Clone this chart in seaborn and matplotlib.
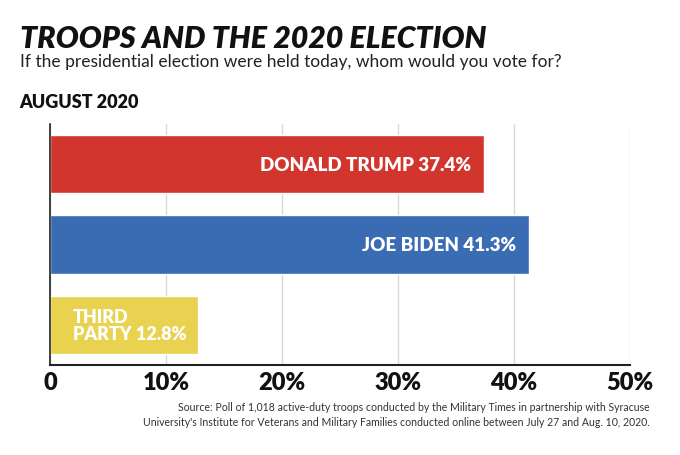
import matplotlib
matplotlib.use("Agg")
import matplotlib.pyplot as plt
import seaborn as sns
import pandas as pd

categories = ["DONALD TRUMP", "JOE BIDEN", "THIRD\nPARTY"]
values = [37.4, 41.3, 12.8]
colors = ["#D1352D", "#3A6CB4", "#E8D24F"]
tick_vals = [0, 10, 20, 30, 40, 50]
tick_labels = ["0", "10%", "20%", "30%", "40%", "50%"]

sns.set_theme(style="white")
plt.rcParams['font.family'] = ['Lato', 'DejaVu Sans']

df = pd.DataFrame({"cat": categories, "val": values})

fig = plt.figure(figsize=(6.8, 4.56), dpi=100)
ax = fig.add_axes([0.0735, 0.197, 0.853, 0.529])
sns.barplot(data=df, x="val", y="cat", hue="cat", palette=colors, legend=False,
            width=0.725, ax=ax, saturation=1)

ax.set_xlim(0, 50)
ax.set_ylim(2.5, -0.5)
ax.set_xticks(tick_vals)
ax.set_xticklabels(tick_labels, fontsize=17, fontweight='heavy')
ax.set_yticks([])
ax.set_xlabel("")
ax.set_ylabel("")
ax.grid(axis='x', color='#d8d8d8', linewidth=1)
ax.set_axisbelow(True)
for s in ["top", "right"]:
    ax.spines[s].set_visible(False)
ax.spines["left"].set_color("#222222")
ax.spines["left"].set_linewidth(1.2)
ax.spines["bottom"].set_color("#222222")
ax.spines["bottom"].set_linewidth(1.5)
ax.tick_params(axis='x', length=0, pad=4, colors='#111111')

for i, (c, v) in enumerate(zip(categories, values)):
    if v > 20:
        ax.text(v - 1.1, i, f"{c} {v}%", ha='right', va='center', color='white',
                fontsize=13.5, fontweight='heavy')
    else:
        ax.text(2.0, i, f"{c} {v}%", ha='left', va='center', color='white',
                fontsize=13, fontweight='heavy', linespacing=1.0)

fig.text(0.029, 0.915, "TROOPS AND THE 2020 ELECTION", fontsize=21.8, fontweight='heavy',
         fontstyle='italic', color='#111111', va='center')
fig.text(0.029, 0.864, "If the presidential election were held today, whom would you vote for?",
         fontsize=12.5, color='#222222', va='center')
fig.text(0.029, 0.775, "AUGUST 2020", fontsize=13, fontweight='heavy', color='#111111', va='center')
fig.text(0.956, 0.062,
         "Source: Poll of 1,018 active-duty troops conducted by the Military Times in partnership with Syracuse\n"
         "University's Institute for Veterans and Military Families conducted online between July 27 and Aug. 10, 2020.",
         fontsize=7.6, color='#333333', ha='right', va='bottom', linespacing=1.45)

fig.savefig("out.png", dpi=100, facecolor='white')
